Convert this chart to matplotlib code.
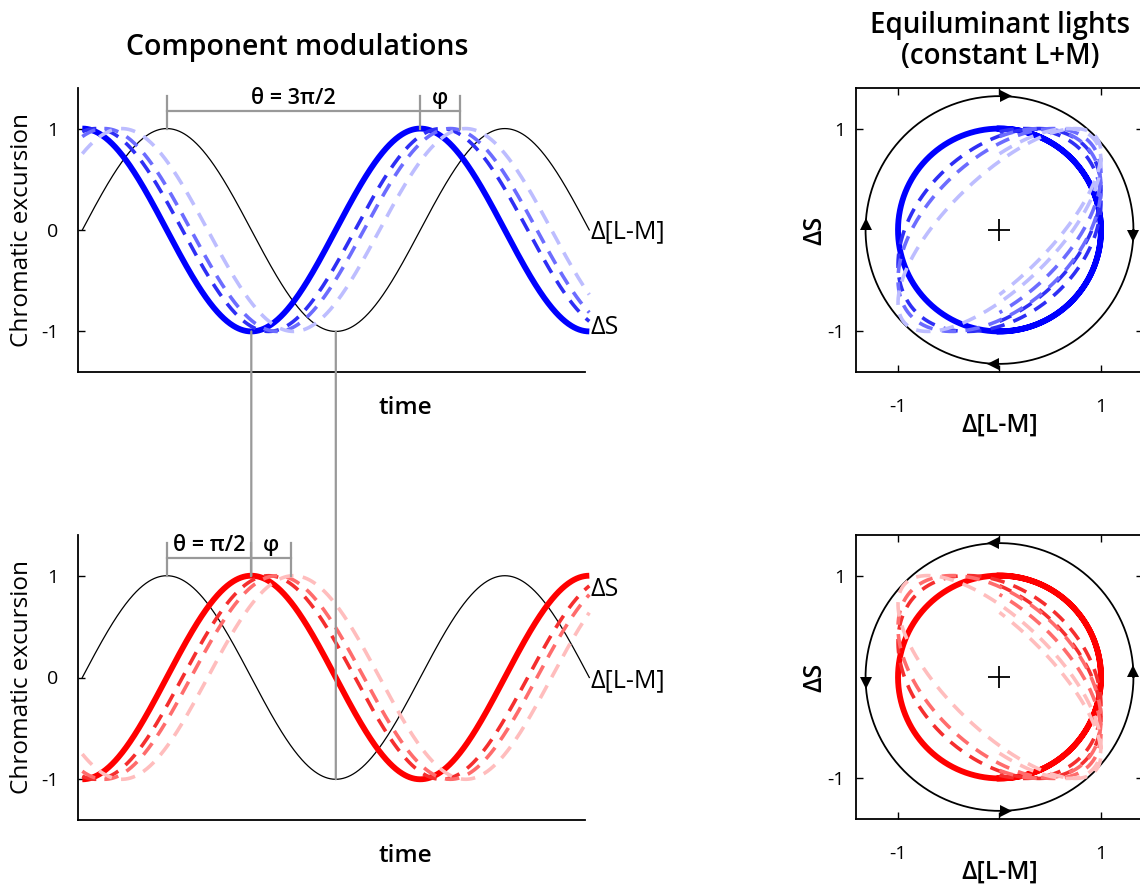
import numpy as np
import matplotlib.pyplot as plt
from matplotlib.patches import ConnectionPatch

plt.rcParams['font.family'] = ['Open Sans', 'DejaVu Sans']

# --- données ---
t_span = 3 * np.pi            # 1.5 cycles
theta_top = 3 * np.pi / 2     # déphasage S vs L-M (haut)
theta_bot = np.pi / 2         # déphasage S vs L-M (bas)
phi_bracket = 0.74            # largeur de l'accolade phi
phase_start = [0.25, 0.40, 0.72]   # retards des courbes en tirets (début)
phase_end = [0.45, 0.62, 0.88]     # retards des courbes en tirets (fin)
blue_shades = ['#2e2ef5', '#6c6cff', '#bdbdff']
red_shades = ['#f52e2e', '#ff6c6c', '#ffbdbd']
ring_radius = 1.32
grey = '#999999'

t = np.linspace(0, t_span, 800)
lm = np.sin(t)


def delayed(theta, p0, p1):
    phase = p0 + (p1 - p0) * t / t_span
    return np.sin(t - theta - phase)


W, H = 1140, 884
fig = plt.figure(figsize=(W / 100, H / 100), dpi=100)


def box(l, top, w, h):
    return [l / W, 1 - (top + h) / H, w / W, h / H]


ax_tl = fig.add_axes(box(78, 88, 507, 284))
ax_bl = fig.add_axes(box(78, 535, 507, 285))
ax_tr = fig.add_axes(box(856, 88, 287, 284))
ax_br = fig.add_axes(box(856, 535, 287, 284))


def component_panel(ax, theta, shades, solid, s_y, lm_y, lab):
    s = np.sin(t - theta)
    ax.plot(t, lm, color='black', lw=0.9, clip_on=False)
    ax.plot(t, s, color=solid, lw=4.2, solid_capstyle='butt', clip_on=False)
    for c, p0, p1 in zip(shades, phase_start, phase_end):
        ax.plot(t, delayed(theta, p0, p1), color=c, lw=2.6, dashes=(4, 2.6), clip_on=False)
    ax.set_xlim(-0.08, t_span - 0.08)
    ax.set_ylim(-1.4, 1.4)
    for sp in ['top', 'right']:
        ax.spines[sp].set_visible(False)
    ax.spines['left'].set_linewidth(1.3)
    ax.spines['bottom'].set_linewidth(1.3)
    ax.set_xticks([])
    ax.set_yticks([-1, 0, 1])
    ax.set_yticklabels(['-1', '0', '1'])
    ax.tick_params(axis='y', direction='in', length=5, width=1, pad=14, labelsize=14)
    ax.text(t_span + 0.02, lm_y, 'Δ[L-M]', fontsize=18, va='center', ha='left')
    ax.text(t_span + 0.02, s_y, 'ΔS', fontsize=18, va='center', ha='left')
    ax.text(0.645, -0.127, 'time', transform=ax.transAxes, fontsize=17.5,
            fontweight='semibold', ha='center', va='center')
    ax.text(-0.11, 0.5, 'Chromatic excursion', transform=ax.transAxes, fontsize=17.5,
            rotation=90, ha='center', va='center')

    # accolades theta / phi
    x0 = np.pi / 2
    x1 = x0 + theta
    x2 = x1 + phi_bracket
    yl, yt = 1.17, 1.32
    ax.plot([x0, x2], [yl, yl], color=grey, lw=1.6)
    for xv in (x0, x1, x2):
        ax.plot([xv, xv], [1.0, yt], color=grey, lw=1.6)
    ax.text((x0 + x1) / 2, 1.19, lab, fontsize=15.5, fontweight='semibold',
            ha='center', va='bottom')
    ax.text((x1 + x2) / 2, 1.19, 'φ', fontsize=15.5, fontweight='semibold',
            ha='center', va='bottom')


component_panel(ax_tl, theta_top, blue_shades, 'blue', -0.96, -0.02, 'θ = 3π/2')
component_panel(ax_bl, theta_bot, red_shades, 'red', 0.86, -0.03, 'θ = π/2')


def lissajous_panel(ax, theta, shades, solid, arrows):
    ang = np.linspace(0, 2 * np.pi, 400)
    ax.plot(ring_radius * np.cos(ang), ring_radius * np.sin(ang), color='black', lw=1.3)
    for (ax_x, ax_y, m) in arrows:
        ax.plot(ax_x, ax_y, marker=m, color='black', ms=9, mew=0)
    ax.plot(lm, np.sin(t - theta), color=solid, lw=4.2)
    for c, p0, p1 in zip(shades, phase_start, phase_end):
        ax.plot(lm, delayed(theta, p0, p1), color=c, lw=2.6, dashes=(4, 2.6))
    ax.plot(0, 0, marker='+', color='black', ms=16, mew=1.3)
    ax.set_xlim(-1.414, 1.414)
    ax.set_ylim(-1.4, 1.4)
    for sp in ax.spines.values():
        sp.set_linewidth(1.3)
    ax.set_xticks([-1, 0, 1])
    ax.set_xticklabels(['-1', '', '1'])
    ax.set_yticks([-1, 1])
    ax.set_yticklabels(['-1', '1'])
    ax.tick_params(direction='in', length=5, width=1, top=True, right=True, labelsize=14)
    ax.tick_params(axis='x', pad=19)
    ax.tick_params(axis='y', pad=8)
    ax.text(0.502, -0.187, 'Δ[L-M]', transform=ax.transAxes, fontsize=18,
            fontweight='semibold', ha='center', va='center')
    ax.text(-0.143, 0.5, 'ΔS', transform=ax.transAxes, fontsize=18,
            fontweight='semibold', rotation=90, ha='center', va='center')


R = ring_radius
lissajous_panel(ax_tr, theta_top, blue_shades, 'blue',
                [(0.06, R, '>'), (R, -0.06, 'v'), (-0.06, -R, '<'), (-R, 0.06, '^')])
lissajous_panel(ax_br, theta_bot, red_shades, 'red',
                [(-0.06, R, '<'), (R, 0.06, '^'), (0.06, -R, '>'), (-R, -0.06, 'v')])

# traits verticaux reliant les deux panneaux
for xa, ya, yb in [(np.pi, -1, 1), (3 * np.pi / 2, -1, -1)]:
    con = ConnectionPatch(xyA=(xa, ya), coordsA=ax_tl.transData,
                          xyB=(xa, yb), coordsB=ax_bl.transData,
                          color=grey, lw=1.6)
    fig.add_artist(con)

fig.text(297 / W, 1 - 47 / H, 'Component modulations', fontsize=20.5,
         fontweight='semibold', ha='center', va='center')
fig.text(1000 / W, 1 - 41 / H, 'Equiluminant lights\n(constant L+M)', fontsize=20,
         fontweight='semibold', ha='center', va='center', linespacing=1.1)

fig.savefig('out.png', dpi=100)
